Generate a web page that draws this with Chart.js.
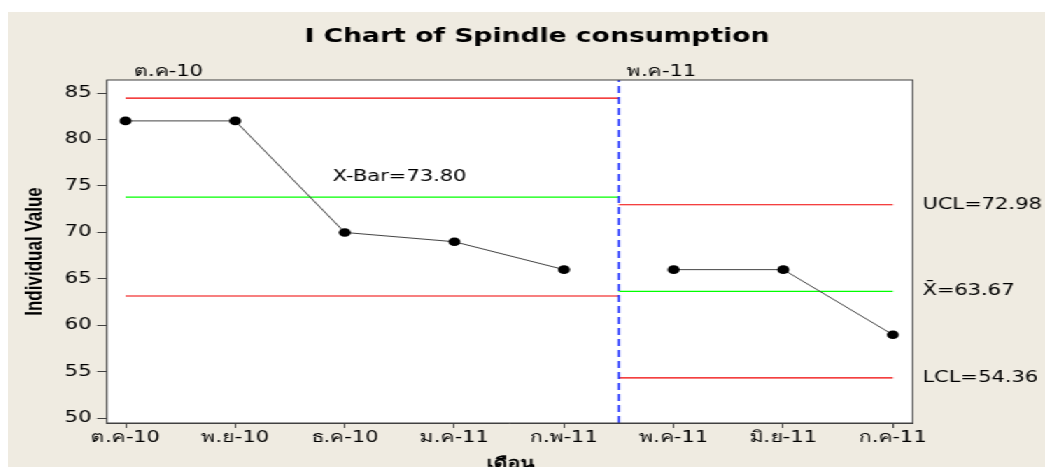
<!DOCTYPE html>
<html>
<head>
<meta charset="utf-8">
<script src="https://cdn.jsdelivr.net/npm/chart.js@4.4.0/dist/chart.umd.min.js"></script>
<style>
  html, body { margin: 0; padding: 0; background: #fff; }
  body { width: 1045px; height: 467px; overflow: hidden; position: relative; }
  /* the reference is a Minitab picture stretched sideways, so the canvas is stretched too */
  #wrap { position: absolute; left: 8px; top: 12px; width: 741px; height: 455px; background: #efebe1; transform: scaleX(1.3995); transform-origin: 0 0; }
  canvas { display: block; }
</style>
</head>
<body>
<div id="wrap"><canvas id="chart" width="741" height="455"></canvas></div>
<script>
const months = ['ต.ค-10', 'พ.ย-10', 'ธ.ค-10', 'ม.ค-11', 'ก.พ-11', 'พ.ค-11', 'มิ.ย-11', 'ก.ค-11'];
const values = [82, 82, 70, 69, 66, 66, 66, 59];
const stageOf = [0, 0, 0, 0, 0, 1, 1, 1];
const stageNames = ['ต.ค-10', 'พ.ค-11'];
const stageStart = [0, 4.5];
const stageEnd = [4.5, 7];
const ucl = [84.44, 72.98];
const centre = [73.80, 63.67];
const lcl = [63.16, 54.36];
const yTicks = [50, 55, 60, 65, 70, 75, 80, 85];

const Y_MIN = 49.5;
const Y_MAX = 86.4;
const FONT = '"DejaVu Sans", Verdana, sans-serif';
const RED = '#f00000';
const GREEN = '#00ff00';

function hline(name, value, stage, color) {
  return {
    type: 'line',
    label: name + stage,
    data: [{ x: stageStart[stage], y: value }, { x: stageEnd[stage], y: value }],
    borderColor: color,
    backgroundColor: color,
    borderWidth: 1.2,
    pointRadius: 0,
    fill: false,
    order: 2
  };
}

const datasets = [];
[0, 1].forEach(s => {
  datasets.push(hline('ucl', ucl[s], s, RED));
  datasets.push(hline('cl', centre[s], s, GREEN));
  datasets.push(hline('lcl', lcl[s], s, RED));
});
datasets.push({
  type: 'line',
  label: 'stage',
  data: [{ x: stageStart[1], y: Y_MIN }, { x: stageStart[1], y: Y_MAX }],
  borderColor: '#2233ff',
  backgroundColor: '#2233ff',
  borderWidth: 1.5,
  borderDash: [7, 4],
  pointRadius: 0,
  fill: false,
  order: 1
});
[0, 1].forEach(s => {
  datasets.push({
    type: 'line',
    label: 'value' + s,
    data: values.map((v, i) => ({ x: i, y: v })).filter((p, i) => stageOf[i] === s),
    borderColor: '#444',
    backgroundColor: '#000',
    borderWidth: 1,
    pointRadius: 4.3,
    pointBackgroundColor: '#000',
    pointBorderColor: '#000',
    pointBorderWidth: 0,
    fill: false,
    order: 0
  });
});

const decor = {
  id: 'decor',
  beforeDatasetsDraw(chart) {
    const { ctx, chartArea: a } = chart;
    ctx.save();
    ctx.fillStyle = '#fff';
    ctx.fillRect(a.left, a.top, a.right - a.left, a.bottom - a.top);
    ctx.restore();
  },
  afterDraw(chart) {
    const { ctx, chartArea: a, scales: { x, y } } = chart;
    ctx.save();
    ctx.strokeStyle = '#404040';
    ctx.lineWidth = 1;
    ctx.strokeRect(a.left, a.top, a.right - a.left, a.bottom - a.top);

    ctx.fillStyle = '#000';
    ctx.textAlign = 'center';
    ctx.textBaseline = 'alphabetic';
    ctx.font = 'bold 19px ' + FONT;
    ctx.fillText('I Chart of Spindle consumption', 378, 30);

    // stage names above the plot
    ctx.font = '15px ' + FONT;
    ctx.textAlign = 'left';
    stageNames.forEach((name, s) => {
      ctx.fillText(name, x.getPixelForValue(stageStart[s]) + 6, 64);
    });

    ctx.textAlign = 'center';
    ctx.fillText('X-Bar=' + centre[0].toFixed(2), x.getPixelForValue(2.5), 169);

    ctx.textAlign = 'left';
    ctx.textBaseline = 'middle';
    const lx = a.right + 7;
    ctx.fillText('UCL=' + ucl[1].toFixed(2), lx, y.getPixelForValue(ucl[1]));
    ctx.fillText('X\u0304=' + centre[1].toFixed(2), lx, y.getPixelForValue(centre[1]));
    ctx.fillText('LCL=' + lcl[1].toFixed(2), lx, y.getPixelForValue(lcl[1]));

    ctx.textAlign = 'center';
    ctx.textBaseline = 'top';
    ctx.font = 'bold 15px ' + FONT;
    ctx.fillText('เดือน', (a.left + a.right) / 2, 445);

    ctx.translate(19, (a.top + a.bottom) / 2);
    ctx.rotate(-Math.PI / 2);
    ctx.textBaseline = 'middle';
    ctx.font = 'bold 17px "Liberation Sans", Arial, sans-serif';
    ctx.fillText('Individual Value', 0, 0);
    ctx.restore();
  }
};

new Chart(document.getElementById('chart'), {
  type: 'line',
  data: { datasets },
  options: {
    responsive: false,
    devicePixelRatio: 1,
    animation: false,
    layout: { padding: { left: 0, right: 94.6, top: 68, bottom: 0 } },
    plugins: { legend: { display: false }, tooltip: { enabled: false } },
    scales: {
      x: {
        type: 'linear',
        min: -0.17,
        max: 7.18,
        afterFit(scale) { scale.height = 44; },
        afterBuildTicks(scale) { scale.ticks = months.map((m, i) => ({ value: i })); },
        ticks: {
          padding: 1,
          color: '#000',
          font: { family: FONT, size: 15 },
          callback: value => months[value]
        },
        grid: { drawOnChartArea: false, tickLength: 5, color: '#404040' },
        border: { display: true, color: '#404040' }
      },
      y: {
        min: Y_MIN,
        max: Y_MAX,
        afterFit(scale) { scale.width = 70.7; },
        afterBuildTicks(scale) { scale.ticks = yTicks.map(v => ({ value: v })); },
        ticks: {
          padding: 4,
          color: '#000',
          font: { family: FONT, size: 15 }
        },
        grid: { drawOnChartArea: false, tickLength: 7, color: '#404040' },
        border: { display: true, color: '#404040' }
      }
    }
  },
  plugins: [decor]
});
</script>
</body>
</html>
